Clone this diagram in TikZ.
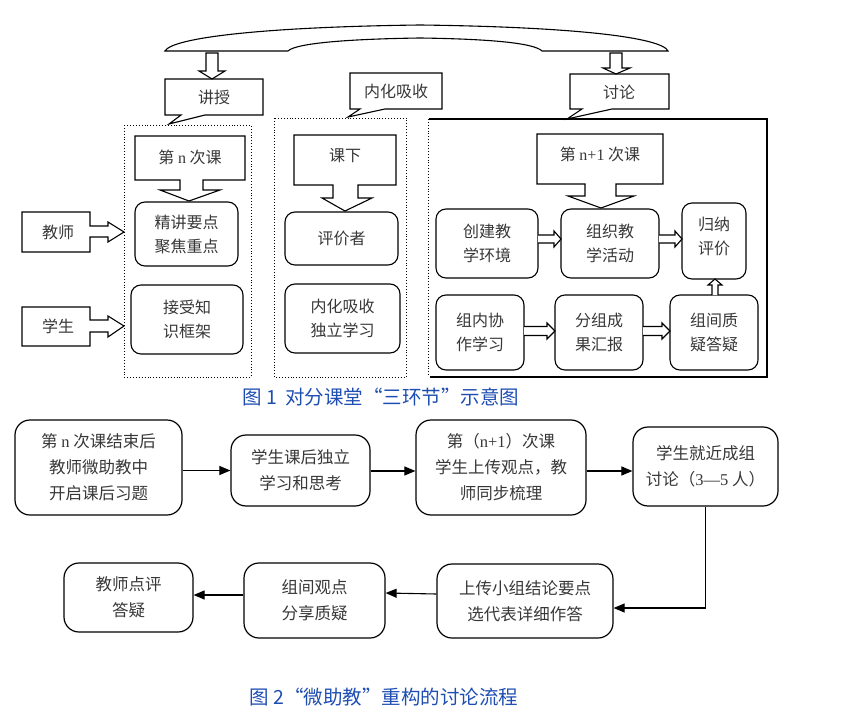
\documentclass[tikz,border=0pt]{standalone}
\usepackage{fontspec}
\setmainfont{Liberation Serif}
\newfontfamily\cjk{Noto Sans CJK SC}
\usetikzlibrary{arrows.meta}
\definecolor{capblue}{RGB}{30,78,178}
\definecolor{txt}{RGB}{55,55,55}
\newcommand\upfont{\cjk\fontsize{16}{24}\selectfont}
\newcommand\lofont{\cjk\fontsize{16.5}{26}\selectfont}
\newcommand\capfont{\cjk\fontsize{19.5}{22}\selectfont}
\newcommand\rarr[6]{\draw[ln,fill=white] (#1,#3-#4) -- (#2-#6,#3-#4) -- (#2-#6,#3-#5) -- (#2,#3) -- (#2-#6,#3+#5) -- (#2-#6,#3+#4) -- (#1,#3+#4);}
\begin{document}
\begin{tikzpicture}[x=1pt,y=-1pt,
  ln/.style={draw=black,line width=1.1pt,line join=miter},
  lbl/.style={text=txt,font=\upfont,align=center,inner sep=0pt},
  rbox/.style={ln,rounded corners=10pt,align=center,font=\upfont,text=txt,inner sep=0pt},
  lbox/.style={draw=black,line width=1.2pt,rounded corners=15pt,align=center,font=\lofont,text=txt,inner sep=0pt},
  flow/.style={draw=black,line width=1.1pt,-{Triangle[length=11pt,width=9pt]}},
  cont/.style={draw=black,line width=0.9pt,dotted},
  captext/.style={text=capblue,font=\capfont,inner sep=0pt}]
\useasboundingbox (0,0) rectangle (853,711);
% top brace
\draw[ln] (165,51) .. controls (172,38) and (260,27) .. (420,25) .. controls (580,27) and (662,38) .. (668,51)
  -- (542,51) .. controls (534,43) and (490,39) .. (420,38) .. controls (350,39) and (296,43) .. (288,51) -- cycle;
% hollow down arrows from brace
\draw[ln,fill=white] (206,53) -- (218,53) -- (218,71) -- (225,71) -- (212,79) -- (199,71) -- (206,71) -- cycle;
\draw[ln,fill=white] (610,53) -- (622,53) -- (622,68) -- (630,68) -- (616,74) -- (603,68) -- (610,68) -- cycle;
% callouts
\draw[ln] (165,79) -- (263,79) -- (263,115) -- (205,115) -- (169,124) -- (181,115) -- (165,115) -- cycle;
\node[lbl] (jiang) at (214,97) {讲授};
\draw[ln] (350,73) -- (442,73) -- (442,109) -- (385,109) -- (348,117) -- (360,109) -- (350,109) -- cycle;
\node[lbl] (neihua) at (396,91) {内化吸收};
\draw[ln] (570,74) -- (669,74) -- (669,109) -- (612,109) -- (567,119) -- (582,109) -- (570,109) -- cycle;
\node[lbl] (taolun) at (619,92) {讨论};
% containers
\draw[cont] (124,125) rectangle (251,377);
\draw[cont] (274,118) rectangle (406,377);
\draw[cont] (428,119) -- (428,377);
\draw[line width=2pt] (429,119) -- (767,119) -- (767,377) -- (430,377);
% down callouts inside containers
\draw[ln] (135,136) -- (245,136) -- (245,180) -- (203,180) -- (203,190) -- (220,190) -- (189,201) -- (160,190) -- (180,190) -- (180,180) -- (135,180) -- cycle;
\node[lbl] (dinci) at (190,157) {第 {\rmfamily n} 次课};
\draw[ln] (294,135) -- (396,135) -- (396,185) -- (358,185) -- (358,198) -- (372,198) -- (345,211) -- (322,198) -- (333,198) -- (333,185) -- (294,185) -- cycle;
\node[lbl] (kexia) at (345,156) {课下};
\draw[ln] (537,134) -- (663,134) -- (663,184) -- (616,184) -- (616,196) -- (634,196) -- (601,208) -- (568,196) -- (585,196) -- (585,184) -- (537,184) -- cycle;
\node[lbl] (dinj) at (600,154) {第 {\rmfamily n+1} 次课};
% teacher / student arrows
\draw[ln] (22,212) -- (90,212) -- (90,226) -- (108,226) -- (108,222) -- (124,232) -- (108,242) -- (108,237) -- (90,237) -- (90,252) -- (22,252) -- cycle;
\node[lbl] (jiaoshi) at (58,232) {教师};
\draw[ln] (22,307) -- (90,307) -- (90,320) -- (108,320) -- (108,316) -- (124,326) -- (108,337) -- (108,332) -- (90,332) -- (90,346) -- (22,346) -- cycle;
\node[lbl] (xuesheng) at (58,326) {学生};
% rounded boxes upper
\node[rbox,minimum width=103pt,minimum height=64pt] (jj) at (186.5,234) {精讲要点\\聚焦重点};
\node[rbox,minimum width=112pt,minimum height=69pt] (js) at (187,319.5) {接受知\\识框架};
\node[rbox,minimum width=113pt,minimum height=53pt] (pj) at (341.5,238.5) {评价者};
\node[rbox,minimum width=115pt,minimum height=69pt] (nh) at (342.5,318.5) {内化吸收\\独立学习};
\node[rbox,minimum width=102pt,minimum height=69pt] (cj) at (487,243.5) {创建教\\学环境};
\node[rbox,minimum width=98pt,minimum height=69pt] (zz) at (610,243.5) {组织教\\学活动};
\node[rbox,minimum width=64pt,minimum height=76pt] (gn) at (714,241) {};
\node[lbl] (gnt) at (714,236) {归纳\\评价};
\node[rbox,minimum width=88pt,minimum height=75pt] (zn) at (480,332.5) {组内协\\作学习};
\node[rbox,minimum width=88pt,minimum height=75pt] (fz) at (599,332.5) {分组成\\果汇报};
\node[rbox,minimum width=88pt,minimum height=75pt] (zj) at (714,332.5) {组间质\\疑答疑};
% small hollow arrows
\rarr{538}{561}{239}{4}{8}{7}
\rarr{659}{682}{239}{4}{8}{7}
\rarr{524}{555}{331}{4.5}{8}{8}
\rarr{643}{670}{331}{4.5}{8}{8}
\draw[ln,fill=white] (712,295) -- (712,285) -- (708,285) -- (715,279) -- (722,285) -- (718,285) -- (718,295);
% caption 1
\node[captext] (cap1) at (381,397) {图 1\, 对分课堂“三环节”示意图};
% lower flowchart
\node[lbox,minimum width=167pt,minimum height=95pt] (a) at (98.5,467.5) {第 {\rmfamily n} 次课结束后\\教师微助教中\\开启课后习题};
\node[lbox,minimum width=139pt,minimum height=71pt] (b) at (300.5,470.5) {学生课后独立\\学习和思考};
\node[lbox,minimum width=170pt,minimum height=95pt] (c) at (501,467.5) {第（{\rmfamily n+1}）次课\\学生上传观点，教\\师同步梳理};
\node[lbox,minimum width=145pt,minimum height=79pt] (d) at (705.5,466.5) {学生就近成组\\讨论（{\rmfamily 3—5} 人）};
\node[lbox,minimum width=176pt,minimum height=74pt] (e) at (525,601) {上传小组结论要点\\选代表详细作答};
\node[lbox,minimum width=141pt,minimum height=75pt] (f) at (314.5,600.5) {组间观点\\分享质疑};
\node[lbox,minimum width=129pt,minimum height=69pt] (g) at (128.5,597.5) {教师点评\\答疑};
\draw[flow] (a.east |- b) -- (b);
\draw[flow] (b.east |- 0,471) -- (c.west |- 0,471);
\draw[flow] (c.east |- 0,471) -- (d.west |- 0,471);
\draw[flow] (d.south) |- ([yshift=-7pt]e.east);
\draw[flow] ([yshift=7pt]e.west) -- (f.east |- 0,593);
\draw[flow] (f.west |- 0,595) -- (g.east |- 0,595);
% caption 2
\node[captext] (cap2) at (384,697) {图 2“微助教”重构的讨论流程};
\end{tikzpicture}
\end{document}
